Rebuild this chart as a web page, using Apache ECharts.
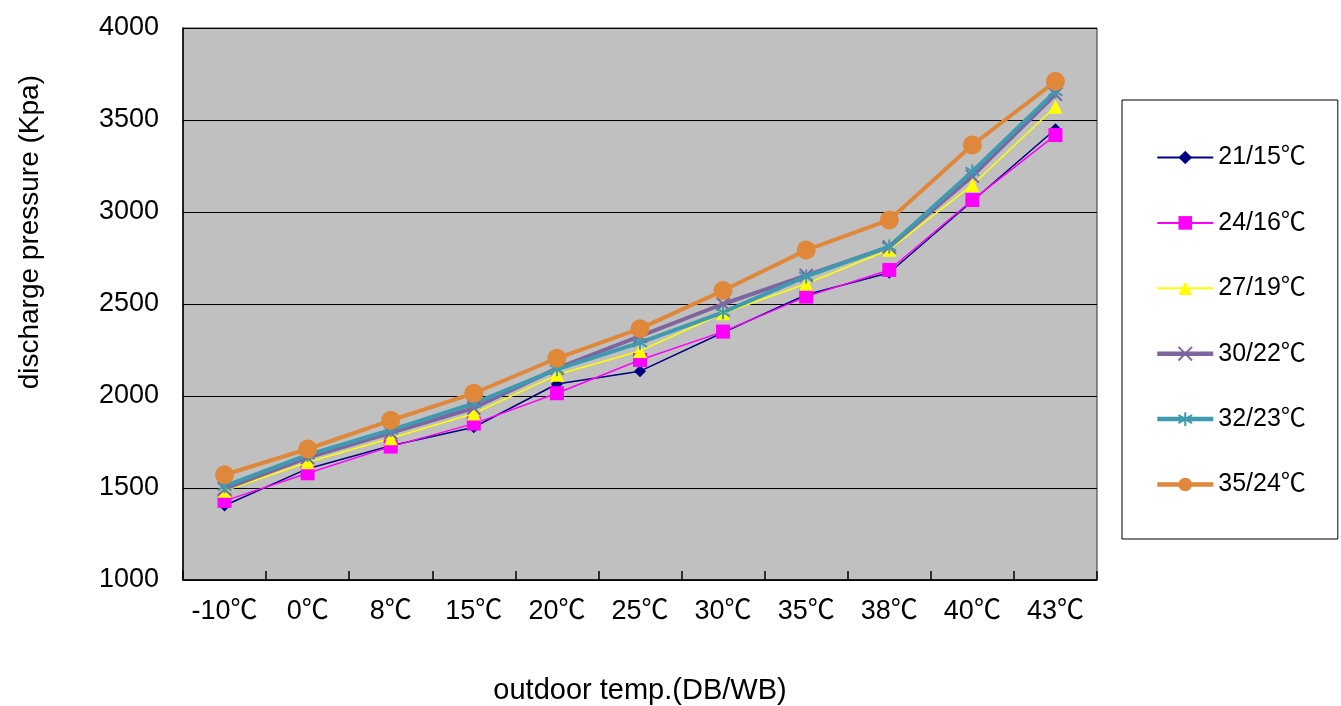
<!DOCTYPE html>
<html>
<head>
<meta charset="utf-8">
<script src="https://cdn.jsdelivr.net/npm/echarts@6/dist/echarts.min.js"></script>
<style>html,body{margin:0;padding:0;background:#fff;overflow:hidden;}#c{width:1341px;height:706px;}</style>
</head>
<body>
<div id="c"></div>
<script>
const categories = ['-10℃', '0℃', '8℃', '15℃', '20℃', '25℃', '30℃', '35℃', '38℃', '40℃', '43℃'];
const seriesNames = ['21/15℃', '24/16℃', '27/19℃', '30/22℃', '32/23℃', '35/24℃'];
const s21_15 = [1405, 1605, 1730, 1830, 2065, 2135, 2345, 2550, 2670, 3060, 3450];
const s24_16 = [1430, 1580, 1725, 1850, 2015, 2196, 2350, 2540, 2685, 3065, 3418];
const s27_19 = [1485, 1640, 1770, 1905, 2115, 2245, 2450, 2610, 2795, 3147, 3572];
const s30_22 = [1495, 1665, 1800, 1935, 2150, 2325, 2500, 2655, 2810, 3195, 3640];
const s32_23 = [1510, 1680, 1815, 1960, 2145, 2290, 2455, 2650, 2812, 3220, 3655];
const s35_24 = [1572, 1712, 1868, 2015, 2205, 2366, 2573, 2793, 2957, 3364, 3710];
const yTicks = { min: 1000, max: 4000, interval: 500 };

const FONT = '"Liberation Sans", "Noto Sans CJK SC", Arial, sans-serif';
const chart = echarts.init(document.getElementById('c'), null, { width: 1341, height: 706 });

const colors = ['#000080', '#ff00ff', '#ffff00', '#7f659f', '#3f9ab0', '#e0883a'];
const widths = [1.5, 1.5, 1.5, 4, 4, 4];

function mk(i, data, symbol, size, extra) {
  return Object.assign({
    name: seriesNames[i], type: 'line', data: data,
    symbol: symbol, symbolSize: size,
    lineStyle: { color: colors[i], width: widths[i] },
    itemStyle: { color: colors[i] },
    emphasis: { disabled: true }
  }, extra || {});
}

const xPath = 'path://M0,0 L10,10 M10,0 L0,10';
const starPath = 'path://M5,0 L5,10 M0,2 L10,8 M0,8 L10,2';

chart.setOption({
  animation: false,
  backgroundColor: '#ffffff',
  grid: {
    left: 183, right: 244, top: 28, bottom: 126,
    outerBoundsMode: 'none', containLabel: false,
    show: true, backgroundColor: '#c0c0c0', borderColor: '#333', borderWidth: 1
  },
  legend: {
    orient: 'vertical',
    left: 1122, top: 100,
    padding: [45, 32, 42, 33],
    itemGap: 40.4,
    itemWidth: 56, itemHeight: 17,
    backgroundColor: '#ffffff',
    borderColor: '#000', borderWidth: 1,
    textStyle: { fontFamily: FONT, fontSize: 25, color: '#000', lineHeight: 25 },
    data: seriesNames.map(function (n, i) { return { name: n, lineStyle: { width: widths[i] + 0.5 } }; })
  },
  xAxis: {
    type: 'category', data: categories, boundaryGap: true,
    name: 'outdoor temp.(DB/WB)', nameLocation: 'middle', nameGap: 96,
    nameTextStyle: { fontFamily: FONT, fontSize: 29, color: '#000' },
    axisLine: { lineStyle: { color: '#000', width: 1.5 } },
    axisTick: { show: true, inside: true, length: 9, interval: 0, lineStyle: { color: '#000', width: 1.5 } },
    axisLabel: { fontFamily: FONT, fontSize: 27, color: '#000', margin: 18, interval: 0, hideOverlap: false },
    splitLine: { show: false }
  },
  yAxis: {
    type: 'value', min: yTicks.min, max: yTicks.max, interval: yTicks.interval,
    axisLine: { show: true, lineStyle: { color: '#000', width: 1.5 } },
    axisTick: { show: false },
    axisLabel: { fontFamily: FONT, fontSize: 27, color: '#000', margin: 24, formatter: function (v) { return String(v); } },
    splitLine: { show: true, lineStyle: { color: '#000', width: 1.2 } }
  },
  graphic: [{
    type: 'text', left: 16, top: 75, rotation: Math.PI / 2,
    style: { text: 'discharge pressure (Kpa)', font: '28px ' + FONT, fill: '#000' }
  }],
  series: [
    mk(0, s21_15, 'diamond', 12),
    mk(1, s24_16, 'rect', 14),
    mk(2, s27_19, 'triangle', 14),
    mk(3, s30_22, xPath, 13, { itemStyle: { color: colors[3], borderColor: colors[3], borderWidth: 2 } }),
    mk(4, s32_23, starPath, 14, { itemStyle: { color: colors[4], borderColor: colors[4], borderWidth: 2 } }),
    mk(5, s35_24, 'circle', 19)
  ]
});
</script>
</body>
</html>
